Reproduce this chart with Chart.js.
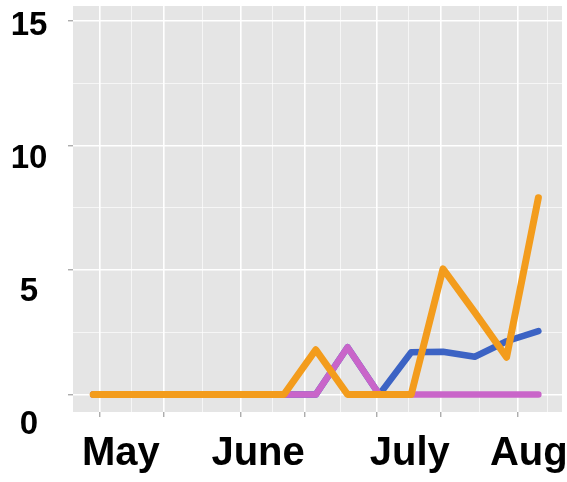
<!DOCTYPE html>
<html>
<head>
<meta charset="utf-8">
<script src="https://cdn.jsdelivr.net/npm/chart.js@4"></script>
<style>
  html, body { margin: 0; padding: 0; background: #ffffff; }
  #wrap { width: 567px; height: 482px; }
</style>
</head>
<body>
<div id="wrap"><canvas id="c" width="567" height="482"></canvas></div>
<script>
// x values: days since May 1 (weekly points)
const weekDays = [-1.5, 5.5, 12.5, 19.5, 26.5, 33.5, 40.5, 47.5, 54.5, 61.5, 68.5, 75.5, 82.5, 89.5, 96.5];
const orangeValues = [0, 0, 0, 0, 0, 0, 0, 1.8, 0, 0, 0, 5.05, 3.3, 1.5, 7.9];
const purpleValues = [0, 0, 0, 0, 0, 0, 0, 0, 1.9, 0, 0, 0, 0, 0, 0];
const blueValues   = [0, 0, 0, 0, 0, 0, 0, 0, 1.9, 0, 1.7, 1.72, 1.52, 2.14, 2.55];

// axis ticks
const yTickValues = [0, 5, 10, 15];
const yTickLabels = ['0', '5', '10', '15'];
const yMinorValues = [2.5, 7.5, 12.5];
const xMajorDays = [0, 14, 31, 45, 61, 75, 92];
const xMinorDays = [7, 22.5, 38, 53, 68, 83.5, 98.5];
const monthLabels = ['May', 'June', 'July', 'Aug'];
const monthLabelDays = [4.6, 34.8, 68.2, 94.4];

const toPts = (xs, ys) => xs.map((x, i) => ({ x: x, y: ys[i] }));

const panelBg = {
  id: 'panelBg',
  beforeDraw(chart) {
    const a = chart.chartArea, ctx = chart.ctx;
    ctx.save();
    ctx.fillStyle = '#e5e5e5';
    ctx.fillRect(a.left, a.top, a.right - a.left, a.bottom - a.top);
    ctx.restore();
  }
};

const axisText = {
  id: 'axisText',
  afterDraw(chart) {
    const ctx = chart.ctx, ys = chart.scales.y, xs = chart.scales.x;
    ctx.save();
    ctx.fillStyle = '#000000';
    // y labels (spread slightly wider than the ticks, as in the reference)
    ctx.font = 'bold 33px "Liberation Sans", Arial, sans-serif';
    ctx.textAlign = 'center';
    ctx.textBaseline = 'alphabetic';
    const unit = ys.getPixelForValue(0) - ys.getPixelForValue(1);
    const top = ys.getPixelForValue(15);
    yTickValues.forEach((v, i) => {
      const yc = top + 3 + (15 - v) * unit * 1.067;
      ctx.fillText(yTickLabels[i], 29, yc + 11.5);
    });
    // x labels
    ctx.font = 'bold 40px "Liberation Sans", Arial, sans-serif';
    ctx.textAlign = 'center';
    monthLabels.forEach((t, i) => {
      ctx.fillText(t, xs.getPixelForValue(monthLabelDays[i]), 465);
    });
    ctx.restore();
  }
};

const lineStyle = (color, w) => ({
  borderColor: color,
  backgroundColor: color,
  borderWidth: w,
  pointRadius: 0,
  pointHoverRadius: 0,
  tension: 0,
  fill: false,
  borderCapStyle: 'round',
  borderJoinStyle: 'round'
});

new Chart(document.getElementById('c'), {
  type: 'line',
  data: {
    datasets: [
      Object.assign({ label: 'orange', data: toPts(weekDays, orangeValues) }, lineStyle('#f39c1c', 7)),
      Object.assign({ label: 'purple', data: toPts(weekDays, purpleValues) }, lineStyle('#c965c9', 6.5)),
      Object.assign({ label: 'blue', data: toPts(weekDays, blueValues) }, lineStyle('#3c63c4', 6.5))
    ]
  },
  options: {
    responsive: false,
    animation: false,
    events: [],
    layout: { padding: { left: 68, top: 6, right: 5, bottom: 65 } },
    plugins: { legend: { display: false }, tooltip: { enabled: false } },
    scales: {
      x: {
        type: 'linear', position: 'bottom', min: -5.94, max: 101.7,
        afterBuildTicks: s => { s.ticks = xMajorDays.map(v => ({ value: v })); },
        ticks: { display: false },
        grid: { color: '#ffffff', lineWidth: 1.6, drawTicks: true, tickLength: 5, tickColor: '#8a8a8a', tickWidth: 1 },
        border: { display: false }
      },
      xMinor: {
        type: 'linear', position: 'bottom', min: -5.94, max: 101.7,
        afterBuildTicks: s => { s.ticks = xMinorDays.map(v => ({ value: v })); },
        ticks: { display: false },
        grid: { color: 'rgba(255,255,255,0.8)', lineWidth: 0.8, drawTicks: false },
        border: { display: false }
      },
      y: {
        type: 'linear', position: 'left', min: -0.70, max: 15.6,
        afterBuildTicks: s => { s.ticks = yTickValues.map(v => ({ value: v })); },
        ticks: { display: false },
        grid: { color: '#ffffff', lineWidth: 1.6, drawTicks: true, tickLength: 5, tickColor: '#8a8a8a', tickWidth: 1 },
        border: { display: false }
      },
      yMinor: {
        type: 'linear', position: 'left', min: -0.70, max: 15.6,
        afterBuildTicks: s => { s.ticks = yMinorValues.map(v => ({ value: v })); },
        ticks: { display: false },
        grid: { color: 'rgba(255,255,255,0.8)', lineWidth: 0.8, drawTicks: false },
        border: { display: false }
      }
    }
  },
  plugins: [panelBg, axisText]
});
</script>
</body>
</html>
